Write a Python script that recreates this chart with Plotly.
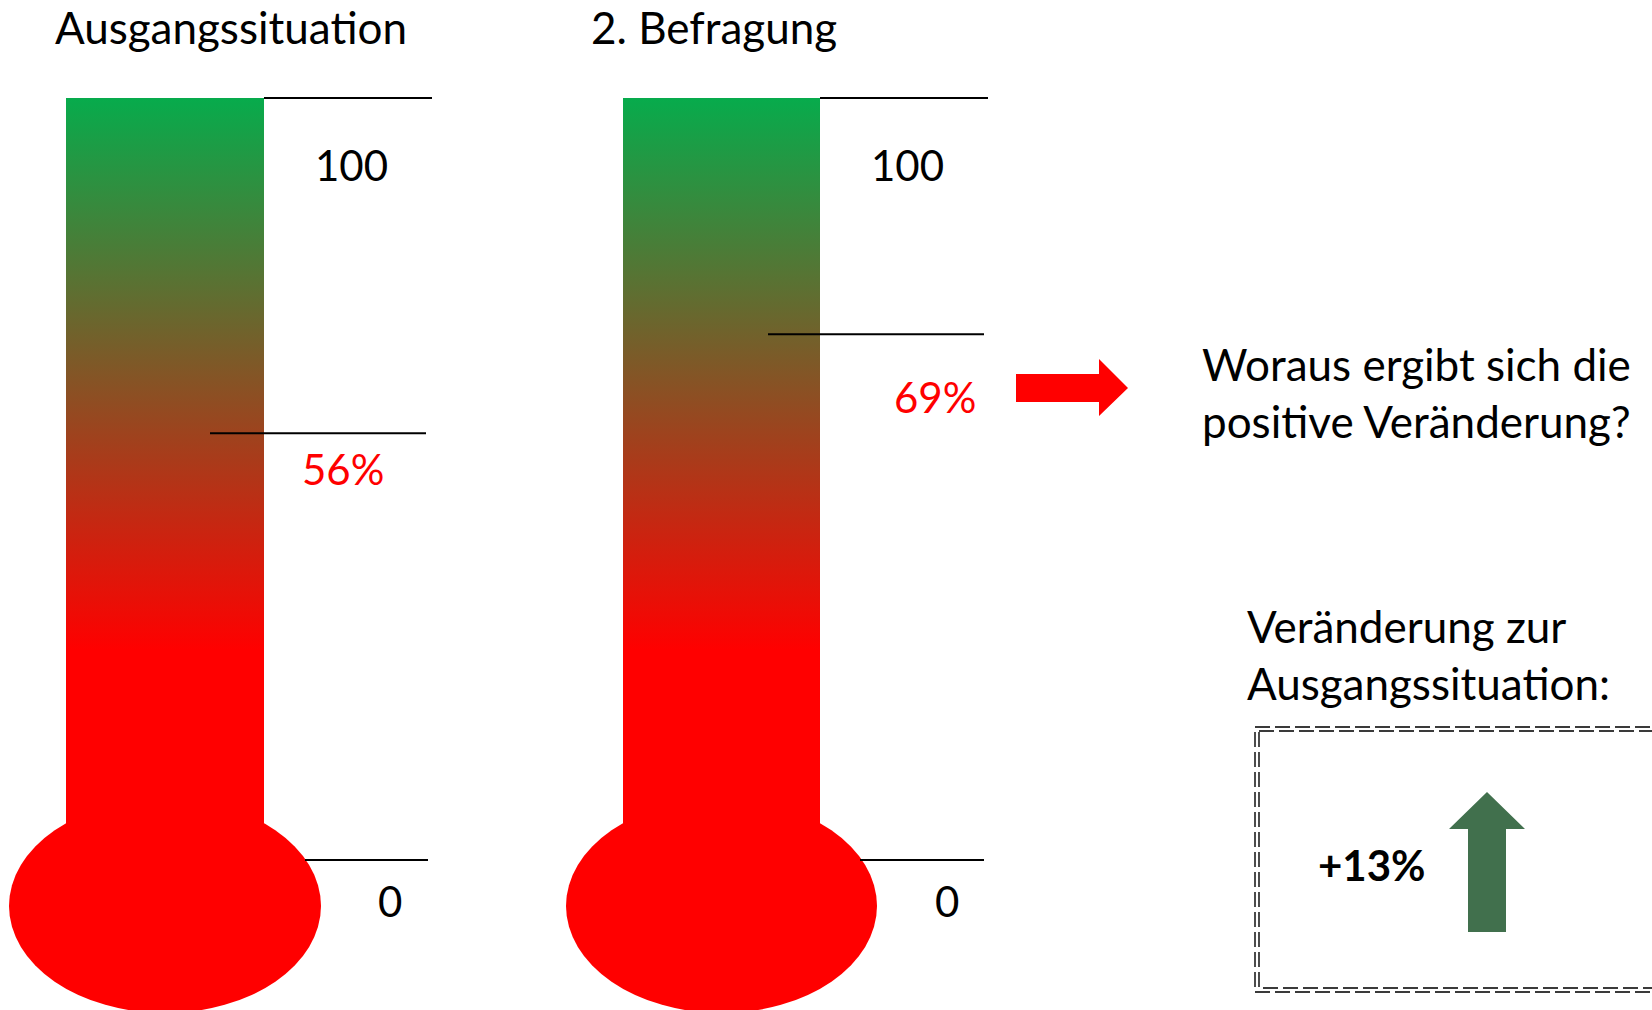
import plotly.graph_objects as go

# --- data -------------------------------------------------------------------
panel_titles = ["Ausgangssituation", "2. Befragung"]
survey_values = [56, 69]          # satisfaction in percent
scale_ticks = [0, 100]            # scale end marks on each thermometer
question_text = "Woraus ergibt sich die<br>positive Veränderung?"
change_caption = "Veränderung zur<br>Ausgangssituation:"

change = survey_values[1] - survey_values[0]

# --- geometry (pixels, figure is 1652 x 1010) --------------------------------
W, H = 1652, 1010
PX_ZERO, PX_HUNDRED = 860, 98            # vertical pixel of scale 0 / 100
PX_PER_UNIT = (PX_ZERO - PX_HUNDRED) / 100.0
V_BOTTOM = (PX_ZERO - H) / PX_PER_UNIT   # value axis range spanning full height
V_TOP = PX_ZERO / PX_PER_UNIT

panels = [
    dict(tube=(66, 264), bulb=(9, 321), top_line=(264, 432), val_line=(210, 426),
         zero_line=(305, 428), tick_x=351, zero_x=390, val_x=343, title_x=53),
    dict(tube=(623, 820), bulb=(566, 877), top_line=(820, 988), val_line=(768, 984),
         zero_line=(860, 984), tick_x=907, zero_x=947, val_x=935, title_x=589),
]
BULB_Y = (799, 1013)
GRAD_RED_PX = 650                         # below this the tube is pure red
grad_start = (PX_ZERO - GRAD_RED_PX) / PX_PER_UNIT

FONT = "Lato"
TXT = 44
NUM = 42
RED = "#FF0000"
GREEN_ARROW = "#41704D"

fig = go.Figure()
shapes, annos = [], []

for i, p in enumerate(panels):
    t0, t1 = p["tube"]
    # bulb
    shapes.append(dict(type="circle", xref="x", yref="y", layer="below",
                       x0=p["bulb"][0], x1=p["bulb"][1], y0=BULB_Y[0], y1=BULB_Y[1],
                       fillcolor=RED, line=dict(width=0)))
    # tube with a red-to-green vertical gradient
    fig.add_trace(go.Scatter(
        x=[t0, t1, t1, t0, t0],
        y=[scale_ticks[0], scale_ticks[0], scale_ticks[1], scale_ticks[1], scale_ticks[0]],
        yaxis="y2", mode="lines", line=dict(width=0), fill="toself",
        fillgradient=dict(type="vertical",
                          colorscale=[[0, "rgb(255,0,0)"], [1, "rgb(7,171,76)"]],
                          start=grad_start, stop=scale_ticks[1]),
        hoverinfo="skip", showlegend=False))
    # scale marks
    for (xa, xb), v in [(p["top_line"], scale_ticks[1]), (p["val_line"], survey_values[i]),
                        (p["zero_line"], scale_ticks[0])]:
        shapes.append(dict(type="line", xref="x", yref="y2", x0=xa, x1=xb, y0=v, y1=v,
                           line=dict(color="black", width=2)))
    annos.append(dict(x=p["tick_x"], y=scale_ticks[1], xref="x", yref="y2", yshift=-67,
                      text=str(scale_ticks[1]), font=dict(size=NUM, color="black")))
    annos.append(dict(x=p["zero_x"], y=scale_ticks[0], xref="x", yref="y2", yshift=-41,
                      text=str(scale_ticks[0]), font=dict(size=NUM, color="black")))
    annos.append(dict(x=p["val_x"], y=survey_values[i], xref="x", yref="y2",
                      yshift=-36 if i == 0 else -63,
                      text=f"{survey_values[i]}%", font=dict(size=NUM, color=RED)))
    annos.append(dict(x=p["title_x"], y=27, xref="x", yref="y", xanchor="left",
                      text=panel_titles[i], font=dict(size=TXT, color="black")))

# red arrow pointing to the question
shapes.append(dict(type="path", xref="x", yref="y", fillcolor=RED, line=dict(width=0),
                   path="M1016,374 L1099,374 L1099,359 L1128,388 L1099,416 L1099,402 L1016,402 Z"))
annos.append(dict(x=1200, y=392, xref="x", yref="y", xanchor="left", align="left",
                  text=question_text, font=dict(size=TXT, color="black")))

# change box
annos.append(dict(x=1245, y=654, xref="x", yref="y", xanchor="left", align="left",
                  text=change_caption, font=dict(size=TXT, color="black")))
for off in (0, 4):
    shapes.append(dict(type="rect", xref="x", yref="y",
                       x0=1255 + off, x1=1720, y0=727 + off, y1=992 - off,
                       line=dict(color="#3a3a3a", width=1.8, dash="15px,5px")))
annos.append(dict(x=1372, y=865, xref="x", yref="y",
                  text=f"<b>+{change}%</b>", font=dict(size=42, color="black")))
shapes.append(dict(type="path", xref="x", yref="y", fillcolor=GREEN_ARROW, line=dict(width=0),
                   path="M1487,792 L1525,829 L1506,829 L1506,932 L1468,932 L1468,829 L1449,829 Z"))

for a in annos:
    a.setdefault("showarrow", False)
    a["font"]["family"] = FONT

fig.update_layout(
    width=W, height=H, margin=dict(l=0, r=0, t=0, b=0),
    paper_bgcolor="white", plot_bgcolor="white",
    xaxis=dict(range=[0, W], visible=False, fixedrange=True),
    yaxis=dict(range=[H, 0], visible=False, fixedrange=True),
    yaxis2=dict(range=[V_BOTTOM, V_TOP], overlaying="y", visible=False, fixedrange=True),
    shapes=shapes, annotations=annos, showlegend=False,
)

fig.write_html("out.html", config={"displayModeBar": False})
